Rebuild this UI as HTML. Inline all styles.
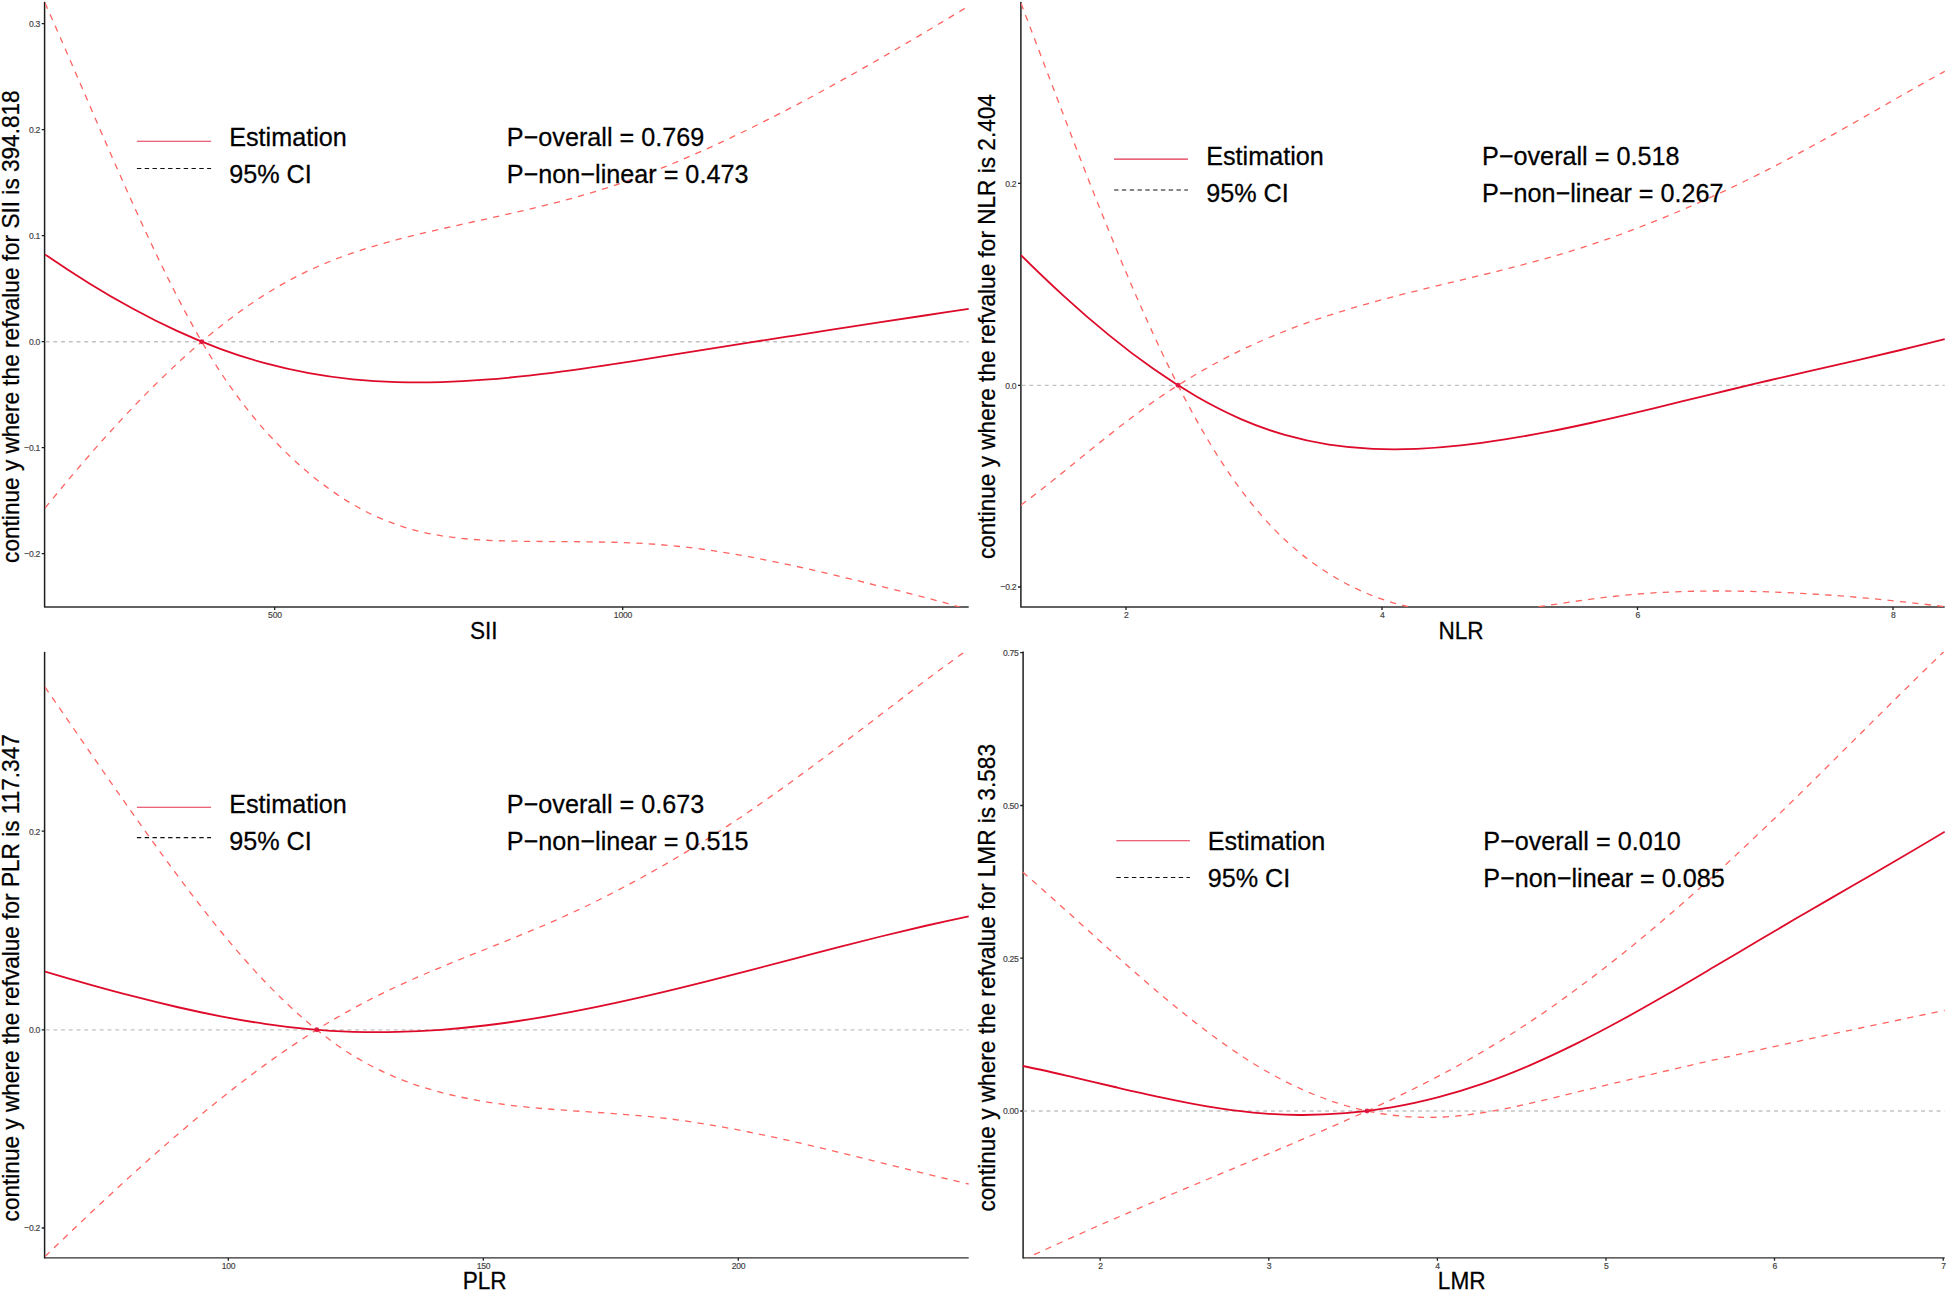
<!DOCTYPE html>
<html lang="en">
<head>
<meta charset="utf-8">
<title>Restricted cubic spline plots: SII, NLR, PLR, LMR</title>
<style>
html,body{margin:0;padding:0;background:#fff;}
body{width:1948px;height:1292px;overflow:hidden;}
svg{display:block;font-family:"Liberation Sans",sans-serif;}
.tk text{font-size:8.6px;letter-spacing:-0.25px;fill:#444444;stroke:#444444;stroke-width:0.18px;}
.ax{font-size:22.62px;fill:#000;stroke:#000;stroke-width:0.25px;}
.lg text{font-size:25.2px;fill:#000;stroke:#000;stroke-width:0.25px;}
</style>
</head>
<body>
<svg width="1948" height="1292" viewBox="0 0 1948 1292">
<rect width="1948" height="1292" fill="#fff"/>
<!-- panel 1: SII -->
<clipPath id="c1"><rect x="45.0" y="2.5" width="924.0" height="604.5"/></clipPath>
<path d="M44.60,2.5V607.00" fill="none" stroke="#1E1E1E" stroke-width="1.5" stroke-linecap="round"/>
<path d="M44.60,607.00H968.7" fill="none" stroke="#2E2E2E" stroke-width="1.35"/>
<g clip-path="url(#c1)" fill="none">
<path d="M45.6,341.7H968.7" stroke="#C2C2C2" stroke-width="1.35" stroke-dasharray="3.87 3.87"/>
<path d="M45.0,3.0C59.7,35.7 74.3,69.8 89.0,103.8C103.6,137.8 118.3,171.6 133.0,204.0C147.6,236.4 162.3,267.5 177.0,296.1C191.6,324.7 206.3,350.5 220.9,372.8C235.6,395.0 250.3,413.9 264.9,430.4C279.6,446.8 294.3,461.0 308.9,473.2C323.6,485.5 338.2,495.8 352.9,504.4C367.6,512.9 382.2,519.6 396.9,524.7C411.5,529.8 426.2,533.3 440.9,535.7C455.5,538.1 470.2,539.4 484.9,540.2C499.5,540.9 514.2,541.2 528.8,541.4C543.5,541.5 558.2,541.6 572.8,541.7C587.5,541.8 602.2,542.0 616.8,542.4C631.5,542.8 646.1,543.5 660.8,544.7C675.5,545.9 690.1,547.5 704.8,549.5C719.4,551.6 734.1,554.0 748.8,556.7C763.4,559.4 778.1,562.4 792.8,565.6C807.4,568.8 822.1,572.1 836.7,575.6C851.4,579.1 866.1,582.8 880.7,586.4C895.4,590.0 910.1,593.6 924.7,597.4C939.4,601.1 954.0,605.2 968.7,610.0" stroke="#FF6461" stroke-width="1.3" stroke-dasharray="6.3 6.2"/>
<path d="M45.0,508.1C59.7,490.0 74.3,472.5 89.0,455.7C103.6,438.8 118.3,422.6 133.0,407.3C147.6,391.9 162.3,377.4 177.0,363.8C191.6,350.1 206.3,337.5 220.9,325.9C235.6,314.3 250.3,303.9 264.9,294.6C279.6,285.3 294.3,277.4 308.9,270.5C323.6,263.7 338.2,257.9 352.9,252.9C367.6,247.9 382.2,243.6 396.9,239.7C411.5,235.8 426.2,232.3 440.9,229.0C455.5,225.7 470.2,222.5 484.9,219.3C499.5,216.0 514.2,212.8 528.8,209.3C543.5,205.8 558.2,202.1 572.8,198.1C587.5,194.0 602.2,189.6 616.8,184.6C631.5,179.7 646.1,174.2 660.8,168.4C675.5,162.6 690.1,156.3 704.8,149.8C719.4,143.2 734.1,136.3 748.8,129.1C763.4,121.9 778.1,114.4 792.8,106.8C807.4,99.1 822.1,91.2 836.7,83.0C851.4,74.9 866.1,66.6 880.7,58.2C895.4,49.7 910.1,41.1 924.7,32.4C939.4,23.7 954.0,14.9 968.7,6.0" stroke="#FF6461" stroke-width="1.3" stroke-dasharray="6.3 6.2"/>
<path d="M45.0,254.4C59.7,264.5 74.3,274.1 89.0,283.2C103.6,292.3 118.3,300.8 133.0,308.8C147.6,316.8 162.3,324.2 177.0,330.9C191.6,337.7 206.3,343.7 220.9,349.1C235.6,354.5 250.3,359.2 264.9,363.2C279.6,367.2 294.3,370.5 308.9,373.1C323.6,375.8 338.2,377.8 352.9,379.3C367.6,380.7 382.2,381.6 396.9,382.1C411.5,382.5 426.2,382.5 440.9,382.1C455.5,381.6 470.2,380.8 484.9,379.7C499.5,378.6 514.2,377.2 528.8,375.6C543.5,373.9 558.2,372.1 572.8,370.1C587.5,368.0 602.2,365.9 616.8,363.6C631.5,361.4 646.1,359.0 660.8,356.7C675.5,354.3 690.1,352.0 704.8,349.6C719.4,347.3 734.1,345.0 748.8,342.6C763.4,340.3 778.1,338.0 792.8,335.8C807.4,333.5 822.1,331.2 836.7,328.9C851.4,326.7 866.1,324.4 880.7,322.2C895.4,319.9 910.1,317.7 924.7,315.5C939.4,313.3 954.0,311.0 968.7,308.8" stroke="#DE0A2A" stroke-width="1.8"/>
</g>
<circle cx="201.7" cy="341.7" r="2.45" fill="#DC143C" fill-opacity="0.9"/>
<path d="M44.6,23.7h-2.9M44.6,129.7h-2.9M44.6,235.7h-2.9M44.6,341.7h-2.9M44.6,447.7h-2.9M44.6,553.7h-2.9M274.7,607.0v2.9M622.7,607.0v2.9" fill="none" stroke="#1E1E1E" stroke-width="1.3"/>
<g class="tk">
<text text-anchor="end" transform="translate(40.1,27.0) scale(1,1.160)">0.3</text>
<text text-anchor="end" transform="translate(40.1,133.0) scale(1,1.160)">0.2</text>
<text text-anchor="end" transform="translate(40.1,239.0) scale(1,1.160)">0.1</text>
<text text-anchor="end" transform="translate(40.1,345.0) scale(1,1.160)">0.0</text>
<text text-anchor="end" transform="translate(40.1,451.0) scale(1,1.160)">−0.1</text>
<text text-anchor="end" transform="translate(40.1,557.0) scale(1,1.160)">−0.2</text>
<text text-anchor="middle" transform="translate(274.9,618.0) scale(1,1.160)">500</text>
<text text-anchor="middle" transform="translate(622.9,618.0) scale(1,1.160)">1000</text>
</g>
<text class="ax" text-anchor="middle" transform="translate(483.8,638.7) scale(1,1.022)">SII</text>
<text class="ax" text-anchor="middle" transform="translate(18.6,326.6) rotate(-90) scale(1,1.022)">continue y where the refvalue for SII is 394.818</text>
<path d="M136.9,141.2H211.1" stroke="#E3324F" stroke-width="1.15" fill="none"/>
<path d="M136.9,168.5H211.1" stroke="#111" stroke-width="1.2" stroke-dasharray="4.4 3.4" fill="none"/>
<g class="lg">
<text transform="translate(229.2,145.7) scale(1,1.022)">Estimation</text>
<text transform="translate(229.2,182.8) scale(1,1.022)">95% CI</text>
<text transform="translate(506.8,145.7) scale(1,1.022)">P−overall = 0.769</text>
<text transform="translate(506.8,182.8) scale(1,1.022)">P−non−linear = 0.473</text>
</g>
<!-- panel 2: NLR -->
<clipPath id="c2"><rect x="1021.0" y="2.5" width="924.0" height="604.5"/></clipPath>
<path d="M1020.90,2.5V607.00" fill="none" stroke="#1E1E1E" stroke-width="1.5" stroke-linecap="round"/>
<path d="M1020.90,607.00H1944.7" fill="none" stroke="#2E2E2E" stroke-width="1.35"/>
<g clip-path="url(#c2)" fill="none">
<path d="M1021.6,385.3H1944.7" stroke="#C2C2C2" stroke-width="1.35" stroke-dasharray="3.87 3.87"/>
<path d="M1021.0,3.3C1035.7,41.7 1050.3,80.5 1065.0,118.9C1079.6,157.2 1094.3,195.0 1109.0,231.1C1123.6,267.2 1138.3,301.6 1153.0,333.4C1167.6,365.3 1182.3,394.6 1196.9,420.9C1211.6,447.1 1226.3,470.3 1240.9,489.9C1255.6,509.6 1270.3,526.0 1284.9,539.8C1299.6,553.5 1314.2,564.5 1328.9,573.6C1343.6,582.8 1358.2,590.1 1372.9,595.8C1387.5,601.5 1402.2,605.6 1416.9,608.3C1431.5,611.1 1446.2,612.5 1460.9,612.8C1475.5,613.1 1490.2,612.4 1504.8,610.9C1519.5,609.5 1534.2,607.4 1548.8,605.3C1563.5,603.1 1578.2,600.8 1592.8,598.9C1607.5,597.0 1622.1,595.4 1636.8,594.1C1651.5,592.9 1666.1,592.1 1680.8,591.6C1695.4,591.1 1710.1,590.9 1724.8,591.0C1739.4,591.1 1754.1,591.4 1768.8,591.9C1783.4,592.4 1798.1,593.1 1812.7,594.0C1827.4,594.9 1842.1,596.0 1856.7,597.3C1871.4,598.5 1886.1,600.0 1900.7,601.6C1915.4,603.1 1930.0,604.9 1944.7,606.7" stroke="#FF6461" stroke-width="1.3" stroke-dasharray="6.3 6.2"/>
<path d="M1021.0,505.1C1035.7,494.2 1050.3,482.5 1065.0,470.7C1079.6,458.8 1094.3,446.8 1109.0,435.2C1123.6,423.5 1138.3,412.3 1153.0,402.0C1167.6,391.7 1182.3,382.4 1196.9,373.8C1211.6,365.2 1226.3,357.4 1240.9,350.3C1255.6,343.2 1270.3,336.9 1284.9,331.1C1299.6,325.3 1314.2,320.1 1328.9,315.4C1343.6,310.6 1358.2,306.3 1372.9,302.2C1387.5,298.2 1402.2,294.4 1416.9,290.8C1431.5,287.1 1446.2,283.6 1460.9,280.1C1475.5,276.6 1490.2,273.1 1504.8,269.4C1519.5,265.7 1534.2,261.8 1548.8,257.6C1563.5,253.5 1578.2,249.0 1592.8,244.1C1607.5,239.2 1622.1,233.9 1636.8,228.3C1651.5,222.7 1666.1,216.8 1680.8,210.5C1695.4,204.3 1710.1,197.7 1724.8,190.8C1739.4,183.9 1754.1,176.7 1768.8,169.2C1783.4,161.7 1798.1,153.8 1812.7,145.8C1827.4,137.8 1842.1,129.5 1856.7,121.2C1871.4,112.8 1886.1,104.4 1900.7,96.0C1915.4,87.7 1930.0,79.4 1944.7,71.3" stroke="#FF6461" stroke-width="1.3" stroke-dasharray="6.3 6.2"/>
<path d="M1021.0,255.2C1035.7,269.8 1050.3,283.8 1065.0,297.1C1079.6,310.5 1094.3,323.2 1109.0,335.1C1123.6,347.1 1138.3,358.3 1153.0,368.6C1167.6,378.9 1182.3,388.3 1196.9,396.8C1211.6,405.2 1226.3,412.7 1240.9,419.1C1255.6,425.5 1270.3,430.7 1284.9,434.9C1299.6,439.1 1314.2,442.3 1328.9,444.6C1343.6,446.8 1358.2,448.2 1372.9,448.9C1387.5,449.6 1402.2,449.5 1416.9,448.9C1431.5,448.2 1446.2,447.0 1460.9,445.4C1475.5,443.8 1490.2,441.8 1504.8,439.4C1519.5,437.1 1534.2,434.5 1548.8,431.7C1563.5,428.8 1578.2,425.7 1592.8,422.5C1607.5,419.3 1622.1,415.9 1636.8,412.4C1651.5,408.9 1666.1,405.3 1680.8,401.7C1695.4,398.1 1710.1,394.5 1724.8,391.0C1739.4,387.4 1754.1,383.9 1768.8,380.5C1783.4,377.0 1798.1,373.7 1812.7,370.3C1827.4,367.0 1842.1,363.7 1856.7,360.3C1871.4,356.9 1886.1,353.5 1900.7,350.0C1915.4,346.5 1930.0,343.0 1944.7,339.2" stroke="#DE0A2A" stroke-width="1.8"/>
</g>
<circle cx="1178.0" cy="385.3" r="2.45" fill="#DC143C" fill-opacity="0.9"/>
<path d="M1020.9,183.3h-2.9M1020.9,385.3h-2.9M1020.9,587.0h-2.9M1126.0,607.0v2.9M1382.0,607.0v2.9M1637.5,607.0v2.9M1893.0,607.0v2.9" fill="none" stroke="#1E1E1E" stroke-width="1.3"/>
<g class="tk">
<text text-anchor="end" transform="translate(1016.4,186.6) scale(1,1.160)">0.2</text>
<text text-anchor="end" transform="translate(1016.4,388.6) scale(1,1.160)">0.0</text>
<text text-anchor="end" transform="translate(1016.4,590.3) scale(1,1.160)">−0.2</text>
<text text-anchor="middle" transform="translate(1126.2,618.0) scale(1,1.160)">2</text>
<text text-anchor="middle" transform="translate(1382.2,618.0) scale(1,1.160)">4</text>
<text text-anchor="middle" transform="translate(1637.7,618.0) scale(1,1.160)">6</text>
<text text-anchor="middle" transform="translate(1893.2,618.0) scale(1,1.160)">8</text>
</g>
<text class="ax" text-anchor="middle" transform="translate(1461.0,638.7) scale(1,1.022)">NLR</text>
<text class="ax" text-anchor="middle" transform="translate(994.6,326.6) rotate(-90) scale(1,1.022)">continue y where the refvalue for NLR is 2.404</text>
<path d="M1114.1,159.1H1187.9" stroke="#E3324F" stroke-width="1.15" fill="none"/>
<path d="M1114.1,190.0H1187.9" stroke="#111" stroke-width="1.2" stroke-dasharray="4.4 3.4" fill="none"/>
<g class="lg">
<text transform="translate(1206.2,165.0) scale(1,1.022)">Estimation</text>
<text transform="translate(1206.2,202.0) scale(1,1.022)">95% CI</text>
<text transform="translate(1482.0,165.0) scale(1,1.022)">P−overall = 0.518</text>
<text transform="translate(1482.0,202.0) scale(1,1.022)">P−non−linear = 0.267</text>
</g>
<!-- panel 3: PLR -->
<clipPath id="c3"><rect x="45.0" y="652.5" width="924.0" height="605.1"/></clipPath>
<path d="M44.60,652.5V1257.90" fill="none" stroke="#1E1E1E" stroke-width="1.5" stroke-linecap="round"/>
<path d="M44.60,1257.90H968.7" fill="none" stroke="#2E2E2E" stroke-width="1.35"/>
<g clip-path="url(#c3)" fill="none">
<path d="M45.6,1029.8H968.7" stroke="#C2C2C2" stroke-width="1.35" stroke-dasharray="3.87 3.87"/>
<path d="M45.0,687.1C59.7,708.3 74.3,729.6 89.0,750.8C103.6,772.1 118.3,793.2 133.0,813.9C147.6,834.7 162.3,855.0 177.0,874.8C191.6,894.5 206.3,913.6 220.9,931.5C235.6,949.5 250.3,966.3 264.9,981.7C279.6,997.0 294.3,1011.0 308.9,1023.3C323.6,1035.7 338.2,1046.5 352.9,1055.5C367.6,1064.5 382.2,1071.8 396.9,1077.8C411.5,1083.8 426.2,1088.5 440.9,1092.4C455.5,1096.2 470.2,1099.2 484.9,1101.6C499.5,1104.0 514.2,1105.8 528.8,1107.3C543.5,1108.7 558.2,1109.8 572.8,1110.8C587.5,1111.8 602.2,1112.7 616.8,1113.8C631.5,1114.9 646.1,1116.2 660.8,1117.8C675.5,1119.5 690.1,1121.6 704.8,1124.0C719.4,1126.4 734.1,1129.1 748.8,1132.0C763.4,1134.9 778.1,1138.1 792.8,1141.4C807.4,1144.7 822.1,1148.2 836.7,1151.8C851.4,1155.3 866.1,1159.0 880.7,1162.6C895.4,1166.3 910.1,1169.9 924.7,1173.5C939.4,1177.1 954.0,1180.6 968.7,1184.0" stroke="#FF6461" stroke-width="1.3" stroke-dasharray="6.3 6.2"/>
<path d="M45.0,1256.5C59.7,1242.4 74.3,1228.4 89.0,1214.5C103.6,1200.7 118.3,1187.1 133.0,1173.8C147.6,1160.5 162.3,1147.6 177.0,1135.0C191.6,1122.4 206.3,1110.2 220.9,1098.5C235.6,1086.8 250.3,1075.5 264.9,1064.9C279.6,1054.2 294.3,1044.2 308.9,1034.7C323.6,1025.3 338.2,1016.6 352.9,1008.6C367.6,1000.5 382.2,993.3 396.9,986.5C411.5,979.7 426.2,973.3 440.9,967.3C455.5,961.2 470.2,955.3 484.9,949.5C499.5,943.6 514.2,937.8 528.8,931.7C543.5,925.6 558.2,919.2 572.8,912.4C587.5,905.6 602.2,898.4 616.8,890.8C631.5,883.2 646.1,875.2 660.8,866.9C675.5,858.5 690.1,849.7 704.8,840.5C719.4,831.3 734.1,821.8 748.8,811.8C763.4,801.8 778.1,791.4 792.8,780.7C807.4,770.1 822.1,759.1 836.7,748.1C851.4,737.0 866.1,725.8 880.7,714.6C895.4,703.4 910.1,692.2 924.7,681.2C939.4,670.2 954.0,659.4 968.7,648.9" stroke="#FF6461" stroke-width="1.3" stroke-dasharray="6.3 6.2"/>
<path d="M45.0,971.6C59.7,975.9 74.3,980.1 89.0,984.3C103.6,988.4 118.3,992.4 133.0,996.2C147.6,1000.0 162.3,1003.6 177.0,1007.0C191.6,1010.4 206.3,1013.5 220.9,1016.3C235.6,1019.2 250.3,1021.7 264.9,1023.8C279.6,1026.0 294.3,1027.8 308.9,1029.1C323.6,1030.4 338.2,1031.3 352.9,1031.8C367.6,1032.2 382.2,1032.3 396.9,1031.9C411.5,1031.6 426.2,1030.9 440.9,1029.8C455.5,1028.7 470.2,1027.3 484.9,1025.5C499.5,1023.8 514.2,1021.7 528.8,1019.4C543.5,1017.1 558.2,1014.5 572.8,1011.7C587.5,1008.9 602.2,1005.9 616.8,1002.7C631.5,999.5 646.1,996.2 660.8,992.7C675.5,989.2 690.1,985.6 704.8,981.9C719.4,978.2 734.1,974.4 748.8,970.6C763.4,966.8 778.1,963.0 792.8,959.1C807.4,955.3 822.1,951.4 836.7,947.7C851.4,943.9 866.1,940.2 880.7,936.5C895.4,932.9 910.1,929.4 924.7,926.0C939.4,922.6 954.0,919.4 968.7,916.3" stroke="#DE0A2A" stroke-width="1.8"/>
</g>
<circle cx="316.7" cy="1029.8" r="2.45" fill="#DC143C" fill-opacity="0.9"/>
<path d="M44.6,831.2h-2.9M44.6,1029.8h-2.9M44.6,1228.0h-2.9M228.3,1257.9v2.9M483.3,1257.9v2.9M738.3,1257.9v2.9" fill="none" stroke="#1E1E1E" stroke-width="1.3"/>
<g class="tk">
<text text-anchor="end" transform="translate(40.1,834.5) scale(1,1.160)">0.2</text>
<text text-anchor="end" transform="translate(40.1,1033.1) scale(1,1.160)">0.0</text>
<text text-anchor="end" transform="translate(40.1,1231.3) scale(1,1.160)">−0.2</text>
<text text-anchor="middle" transform="translate(228.5,1268.9) scale(1,1.160)">100</text>
<text text-anchor="middle" transform="translate(483.5,1268.9) scale(1,1.160)">150</text>
<text text-anchor="middle" transform="translate(738.5,1268.9) scale(1,1.160)">200</text>
</g>
<text class="ax" text-anchor="middle" transform="translate(484.7,1288.7) scale(1,1.022)">PLR</text>
<text class="ax" text-anchor="middle" transform="translate(18.6,977.8) rotate(-90) scale(1,1.022)">continue y where the refvalue for PLR is 117.347</text>
<path d="M136.9,807.2H211.1" stroke="#E3324F" stroke-width="1.15" fill="none"/>
<path d="M136.9,837.6H211.1" stroke="#111" stroke-width="1.2" stroke-dasharray="4.4 3.4" fill="none"/>
<g class="lg">
<text transform="translate(229.2,813.3) scale(1,1.022)">Estimation</text>
<text transform="translate(229.2,850.4) scale(1,1.022)">95% CI</text>
<text transform="translate(506.8,813.3) scale(1,1.022)">P−overall = 0.673</text>
<text transform="translate(506.8,850.4) scale(1,1.022)">P−non−linear = 0.515</text>
</g>
<!-- panel 4: LMR -->
<clipPath id="c4"><rect x="1022.7" y="652.0" width="922.3" height="605.6"/></clipPath>
<path d="M1023.10,652.0V1257.90" fill="none" stroke="#1E1E1E" stroke-width="1.5" stroke-linecap="round"/>
<path d="M1023.10,1257.90H1944.7" fill="none" stroke="#2E2E2E" stroke-width="1.35"/>
<g clip-path="url(#c4)" fill="none">
<path d="M1023.3,1111.0H1944.7" stroke="#C2C2C2" stroke-width="1.35" stroke-dasharray="3.87 3.87"/>
<path d="M1022.7,872.1C1038.1,885.4 1053.4,899.1 1068.8,913.0C1084.2,926.8 1099.5,940.8 1114.9,954.5C1130.3,968.2 1145.6,981.7 1161.0,994.7C1176.4,1007.6 1191.7,1020.0 1207.1,1031.6C1222.5,1043.1 1237.8,1053.9 1253.2,1063.4C1268.6,1072.9 1283.9,1081.2 1299.3,1088.2C1314.7,1095.2 1330.0,1101.0 1345.4,1105.5C1360.8,1109.9 1376.1,1113.2 1391.5,1115.1C1406.9,1117.1 1422.2,1117.7 1437.6,1117.2C1453.0,1116.7 1468.3,1115.0 1483.7,1112.5C1499.1,1110.1 1514.4,1106.9 1529.8,1103.4C1545.2,1099.9 1560.5,1096.2 1575.9,1092.4C1591.3,1088.7 1606.6,1085.0 1622.0,1081.4C1637.4,1077.7 1652.7,1074.1 1668.1,1070.5C1683.5,1066.9 1698.8,1063.3 1714.2,1059.9C1729.6,1056.4 1744.9,1052.9 1760.3,1049.6C1775.7,1046.2 1791.0,1042.8 1806.4,1039.5C1821.8,1036.2 1837.1,1032.9 1852.5,1029.7C1867.9,1026.4 1883.2,1023.2 1898.6,1020.0C1914.0,1016.8 1929.3,1013.6 1944.7,1010.5" stroke="#FF6461" stroke-width="1.3" stroke-dasharray="6.3 6.2"/>
<path d="M1022.7,1260.0C1038.1,1252.8 1053.4,1245.8 1068.8,1238.9C1084.2,1232.0 1099.5,1225.2 1114.9,1218.6C1130.3,1211.9 1145.6,1205.4 1161.0,1198.8C1176.4,1192.3 1191.7,1185.9 1207.1,1179.5C1222.5,1173.0 1237.8,1166.6 1253.2,1160.2C1268.6,1153.7 1283.9,1147.2 1299.3,1140.7C1314.7,1134.1 1330.0,1127.5 1345.4,1120.7C1360.8,1113.9 1376.1,1106.9 1391.5,1099.6C1406.9,1092.3 1422.2,1084.7 1437.6,1076.6C1453.0,1068.6 1468.3,1060.1 1483.7,1051.0C1499.1,1041.9 1514.4,1032.3 1529.8,1022.0C1545.2,1011.8 1560.5,1001.0 1575.9,989.6C1591.3,978.3 1606.6,966.5 1622.0,954.2C1637.4,941.8 1652.7,929.1 1668.1,915.9C1683.5,902.7 1698.8,889.1 1714.2,875.1C1729.6,861.1 1744.9,846.8 1760.3,832.1C1775.7,817.5 1791.0,802.5 1806.4,787.4C1821.8,772.2 1837.1,756.9 1852.5,741.6C1867.9,726.3 1883.2,711.0 1898.6,695.8C1914.0,680.6 1929.3,665.6 1944.7,650.9" stroke="#FF6461" stroke-width="1.3" stroke-dasharray="6.3 6.2"/>
<path d="M1022.7,1066.0C1038.1,1069.1 1053.4,1072.6 1068.8,1076.1C1084.2,1079.7 1099.5,1083.4 1114.9,1087.0C1130.3,1090.6 1145.6,1094.2 1161.0,1097.4C1176.4,1100.7 1191.7,1103.8 1207.1,1106.4C1222.5,1108.9 1237.8,1111.1 1253.2,1112.6C1268.6,1114.1 1283.9,1114.9 1299.3,1115.0C1314.7,1115.1 1330.0,1114.5 1345.4,1113.2C1360.8,1111.9 1376.1,1109.9 1391.5,1107.3C1406.9,1104.7 1422.2,1101.3 1437.6,1097.3C1453.0,1093.3 1468.3,1088.6 1483.7,1083.3C1499.1,1078.0 1514.4,1071.9 1529.8,1065.3C1545.2,1058.7 1560.5,1051.5 1575.9,1043.9C1591.3,1036.3 1606.6,1028.2 1622.0,1019.8C1637.4,1011.4 1652.7,1002.7 1668.1,993.8C1683.5,985.0 1698.8,975.9 1714.2,966.8C1729.6,957.7 1744.9,948.6 1760.3,939.5C1775.7,930.4 1791.0,921.4 1806.4,912.5C1821.8,903.6 1837.1,894.7 1852.5,885.8C1867.9,876.9 1883.2,868.0 1898.6,859.0C1914.0,850.0 1929.3,841.0 1944.7,831.7" stroke="#DE0A2A" stroke-width="1.8"/>
</g>
<circle cx="1367.0" cy="1111.0" r="2.45" fill="#DC143C" fill-opacity="0.9"/>
<path d="M1023.1,652.7h-2.9M1023.1,805.5h-2.9M1023.1,958.2h-2.9M1023.1,1111.0h-2.9M1100.2,1257.9v2.9M1268.8,1257.9v2.9M1437.4,1257.9v2.9M1606.0,1257.9v2.9M1774.5,1257.9v2.9M1943.2,1257.9v2.9" fill="none" stroke="#1E1E1E" stroke-width="1.3"/>
<g class="tk">
<text text-anchor="end" transform="translate(1018.6,656.0) scale(1,1.160)">0.75</text>
<text text-anchor="end" transform="translate(1018.6,808.8) scale(1,1.160)">0.50</text>
<text text-anchor="end" transform="translate(1018.6,961.5) scale(1,1.160)">0.25</text>
<text text-anchor="end" transform="translate(1018.6,1114.3) scale(1,1.160)">0.00</text>
<text text-anchor="middle" transform="translate(1100.4,1268.9) scale(1,1.160)">2</text>
<text text-anchor="middle" transform="translate(1269.0,1268.9) scale(1,1.160)">3</text>
<text text-anchor="middle" transform="translate(1437.6,1268.9) scale(1,1.160)">4</text>
<text text-anchor="middle" transform="translate(1606.2,1268.9) scale(1,1.160)">5</text>
<text text-anchor="middle" transform="translate(1774.7,1268.9) scale(1,1.160)">6</text>
<text text-anchor="middle" transform="translate(1943.4,1268.9) scale(1,1.160)">7</text>
</g>
<text class="ax" text-anchor="middle" transform="translate(1461.7,1288.7) scale(1,1.022)">LMR</text>
<text class="ax" text-anchor="middle" transform="translate(994.6,977.8) rotate(-90) scale(1,1.022)">continue y where the refvalue for LMR is 3.583</text>
<path d="M1116.3,840.7H1189.9" stroke="#E3324F" stroke-width="1.15" fill="none"/>
<path d="M1116.3,877.5H1189.9" stroke="#111" stroke-width="1.2" stroke-dasharray="4.4 3.4" fill="none"/>
<g class="lg">
<text transform="translate(1207.7,849.7) scale(1,1.022)">Estimation</text>
<text transform="translate(1207.7,886.8) scale(1,1.022)">95% CI</text>
<text transform="translate(1483.2,849.7) scale(1,1.022)">P−overall = 0.010</text>
<text transform="translate(1483.2,886.8) scale(1,1.022)">P−non−linear = 0.085</text>
</g>
</svg>
</body>
</html>
